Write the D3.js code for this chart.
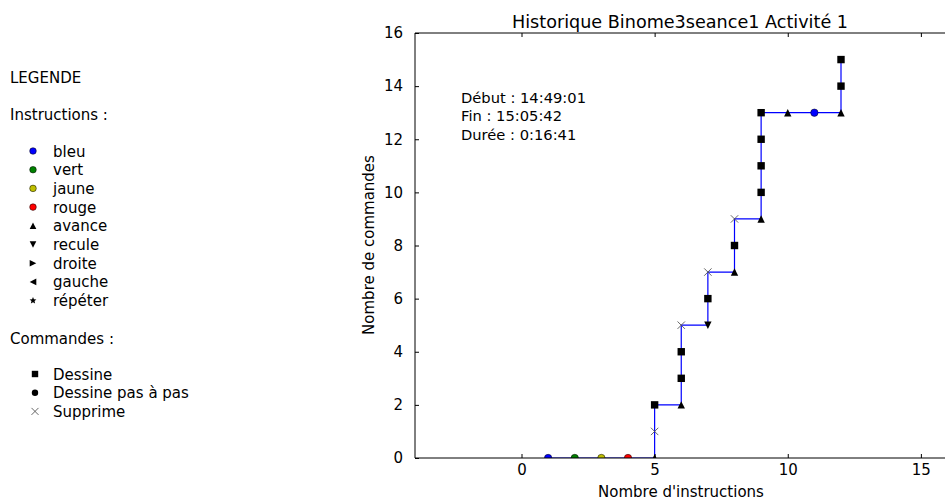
<!DOCTYPE html>
<html><head><meta charset="utf-8">
<script src="https://cdn.jsdelivr.net/npm/d3@7"></script>
<style>body{margin:0;background:#fff;} svg{display:block;} text{font-family:"DejaVu Sans",sans-serif;fill:#000;}</style>
</head><body>
<script>
const title = "Historique Binome3seance1 Activité 1";
const xLabel = "Nombre d'instructions";
const yLabel = "Nombre de commandes";
const infoLines = ["Début : 14:49:01", "Fin : 15:05:42", "Durée : 0:16:41"];
const xTicks = [0, 5, 10, 15];
const yTicks = [0, 2, 4, 6, 8, 10, 12, 14, 16];
const xs = [1,2,3,4,5,5,5,6,6,6,6,7,7,7,8,8,8,9,9,9,9,9,10,11,12,12,12];
const ys = [0,0,0,0,0,1,2,2,3,4,5,5,6,7,7,8,9,9,10,11,12,13,13,13,13,14,15];
const kinds = ["bleu","vert","jaune","rouge","avance","supprime","dessine","avance","dessine","dessine","supprime","recule","dessine","supprime","avance","dessine","supprime","avance","dessine","dessine","dessine","dessine","avance","bleu","avance","dessine","dessine"];
const legendInstr = [["bleu","bleu"],["vert","vert"],["jaune","jaune"],["rouge","rouge"],["avance","avance"],["recule","recule"],["droite","droite"],["gauche","gauche"],["repeter","répéter"]];
const legendCmd = [["dessine","Dessine"],["pasapas","Dessine pas à pas"],["supprime","Supprime"]];

const W = 945, H = 501;
const svg = d3.select("body").append("svg").attr("width", W).attr("height", H);
const x = d3.scaleLinear().domain([-4, 16]).range([415, 947.5]);
const y = d3.scaleLinear().domain([0, 16]).range([458, 33]);

const colors = {bleu:"#0000ff", vert:"#008000", jaune:"#bfbf00", rouge:"#ff0000"};

function drawMarker(g, kind, cx, cy, s) {
  if (colors[kind]) {
    g.append("circle").attr("cx", cx).attr("cy", cy).attr("r", s).attr("fill", colors[kind]).attr("stroke", "#000").attr("stroke-width", 0.5);
  } else if (kind === "pasapas") {
    g.append("circle").attr("cx", cx).attr("cy", cy).attr("r", s).attr("fill", "#000");
  } else if (kind === "dessine") {
    g.append("rect").attr("x", cx - s).attr("y", cy - s).attr("width", 2*s).attr("height", 2*s).attr("fill", "#000");
  } else if (kind === "supprime") {
    g.append("path").attr("d", `M${cx-s},${cy-s}L${cx+s},${cy+s}M${cx-s},${cy+s}L${cx+s},${cy-s}`).attr("stroke", "#555").attr("stroke-width", 0.9).attr("fill", "none");
  } else if (kind === "avance") {
    g.append("path").attr("d", `M${cx},${cy-s}L${cx+s},${cy+s}L${cx-s},${cy+s}Z`).attr("fill", "#000");
  } else if (kind === "recule") {
    g.append("path").attr("d", `M${cx},${cy+s}L${cx+s},${cy-s}L${cx-s},${cy-s}Z`).attr("fill", "#000");
  } else if (kind === "droite") {
    g.append("path").attr("d", `M${cx+s},${cy}L${cx-s},${cy-s}L${cx-s},${cy+s}Z`).attr("fill", "#000");
  } else if (kind === "gauche") {
    g.append("path").attr("d", `M${cx-s},${cy}L${cx+s},${cy-s}L${cx+s},${cy+s}Z`).attr("fill", "#000");
  } else if (kind === "repeter") {
    const pts = [];
    for (let i = 0; i < 10; i++) {
      const r = i % 2 === 0 ? s : s * 0.45;
      const a = -Math.PI/2 + i * Math.PI/5;
      pts.push([cx + r*Math.cos(a), cy + r*Math.sin(a)]);
    }
    g.append("path").attr("d", "M" + pts.map(p => p.join(",")).join("L") + "Z").attr("fill", "#000");
  }
}

svg.append("defs").append("clipPath").attr("id", "clip").append("rect")
  .attr("x", 415).attr("y", 33).attr("width", 947.5 - 415).attr("height", 458 - 33);

const plot = svg.append("g").attr("clip-path", "url(#clip)");
const pts = xs.map((v, i) => [v, ys[i]]);
plot.append("path").attr("d", d3.line().x(d => x(d[0])).y(d => y(d[1]))(pts))
  .attr("fill", "none").attr("stroke", "#0000ff").attr("stroke-width", 1.2);
pts.forEach((p, i) => drawMarker(plot, kinds[i], x(p[0]), y(p[1]), 3.7));

const frame = svg.append("g").attr("stroke", "#000").attr("stroke-width", 1).attr("fill", "none");
frame.append("path").attr("d", `M415,33L947.5,33M415,33L415,458L947.5,458`);

const xAxisB = svg.append("g").attr("transform", "translate(0,458)")
  .call(d3.axisBottom(x).tickValues(xTicks).tickSizeInner(-4).tickSizeOuter(0).tickPadding(6));
const xAxisT = svg.append("g").attr("transform", "translate(0,33)")
  .call(d3.axisTop(x).tickValues(xTicks).tickSizeInner(-4).tickSizeOuter(0).tickFormat(""));
const yAxisL = svg.append("g").attr("transform", "translate(415,0)")
  .call(d3.axisLeft(y).tickValues(yTicks).tickSizeInner(-4).tickSizeOuter(0).tickPadding(12));
[xAxisB, xAxisT, yAxisL].forEach(a => {
  a.select(".domain").remove();
  a.selectAll("text").style("font-family", "DejaVu Sans").style("font-size", "15px").attr("fill", "#000");
  a.selectAll("line").attr("stroke", "#000");
});

svg.append("text").attr("x", 680).attr("y", 28).attr("text-anchor", "middle").style("font-size", "17.6px").text(title);
svg.append("text").attr("x", 681).attr("y", 497).attr("text-anchor", "middle").style("font-size", "15px").text(xLabel);
svg.append("text").attr("transform", "translate(374,245) rotate(-90)").attr("text-anchor", "middle").style("font-size", "15px").text(yLabel);

infoLines.forEach((t, i) => {
  svg.append("text").attr("x", 461).attr("y", 103 + i * 18.4).style("font-size", "14.7px").text(t);
});

const lg = svg.append("g");
lg.append("text").attr("x", 10).attr("y", 83).style("font-size", "15px").text("LEGENDE");
lg.append("text").attr("x", 10).attr("y", 120).style("font-size", "15px").text("Instructions :");
legendInstr.forEach((d, i) => {
  const cy = 151 + i * 18.7;
  drawMarker(lg, d[0], 33, cy, d[0] === "repeter" ? 3.6 : 3.3);
  lg.append("text").attr("x", 53).attr("y", cy + 5.5).style("font-size", "15px").text(d[1]);
});
lg.append("text").attr("x", 10).attr("y", 344).style("font-size", "15px").text("Commandes :");
legendCmd.forEach((d, i) => {
  const cy = 374 + i * 18.7;
  drawMarker(lg, d[0], 35, cy, d[0] === "supprime" ? 3.5 : 3.2);
  lg.append("text").attr("x", 53).attr("y", cy + 5.5).style("font-size", "15px").text(d[1]);
});
</script>
</body></html>
